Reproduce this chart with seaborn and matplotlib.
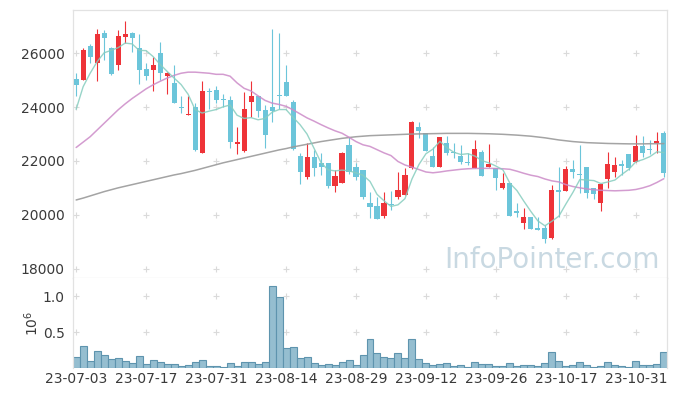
import numpy as np
import matplotlib
matplotlib.use('Agg')
import matplotlib.pyplot as plt
import seaborn as sns

sns.set_style('white')
plt.rcParams['font.family'] = ['DejaVu Sans']
plt.rcParams['font.size'] = 10

RED = '#EE3338'
BLUE = '#6CC5DA'
TEAL = '#86CDBF'
PINK = '#CC8BC8'
GREY = '#9A9A9A'
SPINE = '#E2E2E2'
TXT = '#3A3A3A'

# daily candles (trading-day index 0..84)
open_px = [25045, 25008, 26272, 25627, 26743, 26185, 25565, 26619, 26743, 26185,
           25417, 25380, 26000, 25169, 24908, 24000, 23694, 24016, 22307, 24600,
           24636, 24290, 24264, 22616, 22381, 24177, 24413, 23893, 23992, 24450,
           24946, 24202, 22183, 21415, 22158, 21910, 21910, 21080, 21167, 22592,
           21786, 21650, 20423, 20324, 19952, 20400, 20646, 20733, 21724, 23272,
           23049, 22182, 21761, 22653, 22340, 22183, 21935, 21724, 22319, 21761,
           21724, 21006, 21191, 20120, 19680, 19903, 19506, 19519, 19122, 20900,
           20894, 21687, 21500, 21762, 20981, 20423, 21316, 21601, 21870, 22245,
           21972, 22555, 22420, 22654, 23050]
high_px = [25256, 26210, 26334, 26904, 26866, 26222, 26866, 27201, 26805, 26705,
           25627, 25875, 26433, 25290, 25565, 24413, 24413, 24165, 24983, 24723,
           24785, 24475, 24425, 23248, 24574, 24983, 24413, 24079, 26891, 26767,
           25565, 24264, 22307, 22654, 22406, 22282, 21910, 21662, 22344, 22901,
           21910, 21650, 20856, 20646, 20856, 20880, 21600, 21724, 23483, 23458,
           23049, 22529, 22901, 22926, 22680, 22591, 22282, 22777, 22406, 22629,
           21724, 21563, 21191, 20423, 20237, 19903, 19903, 19618, 21105, 21786,
           21811, 22034, 22592, 21762, 20981, 21142, 22319, 22158, 22034, 22245,
           22963, 22926, 22778, 23087, 23112]
low_px = [24413, 24990, 25627, 24983, 25751, 25200, 25380, 26371, 26061, 24847,
          25008, 24599, 25008, 24475, 24140, 23769, 23694, 22380, 22307, 23917,
          24165, 24016, 22468, 22245, 22350, 23645, 23645, 22468, 23459, 23917,
          24413, 22400, 21142, 21316, 21439, 21477, 20981, 20857, 21167, 21514,
          21291, 20600, 19865, 19840, 19865, 20170, 20600, 20733, 21700, 22839,
          22380, 21761, 21761, 22220, 22100, 21873, 21848, 21724, 21452, 21761,
          20919, 20944, 19965, 19928, 19457, 19457, 19420, 18961, 19085, 19928,
          20894, 21353, 20820, 20609, 20572, 20151, 20981, 21415, 21477, 21662,
          21972, 22158, 22257, 22282, 21415]
close_px = [24822, 26123, 25875, 26718, 26581, 25243, 26643, 26718, 26581, 25380,
            25157, 25565, 25256, 25270, 24165, 23960, 23744, 22406, 24599, 24550,
            24264, 24250, 22715, 22715, 23930, 24413, 23868, 22963, 23868, 24413,
            24413, 22431, 21601, 22158, 21724, 21762, 21080, 21439, 22282, 21601,
            21390, 20650, 20299, 19840, 20423, 20360, 20918, 21476, 23458, 23124,
            22380, 21761, 22901, 22281, 22282, 21972, 21910, 22443, 21452, 21885,
            21377, 21191, 19965, 20080, 19903, 19457, 19444, 19085, 20919, 20860,
            21687, 21600, 21460, 20820, 20770, 21142, 21886, 21848, 21830, 21724,
            22555, 22307, 22390, 22740, 21539]

# moving averages as drawn in the source chart
ma_short = [23920, 24760, 25260, 25690, 26020, 26110, 26210, 26380, 26350, 26110,
            26100, 25880, 25590, 25330, 25080, 24840, 24480, 23910, 23780, 23850,
            23910, 24010, 24080, 23700, 23580, 23610, 23530, 23580, 23810, 23910,
            23910, 23620, 23350, 23000, 22470, 21940, 21670, 21630, 21660, 21630,
            21560, 21470, 21240, 20760, 20520, 20310, 20370, 20600, 21330, 21870,
            22270, 22440, 22730, 22490, 22320, 22240, 22270, 22180, 22010, 21930,
            21810, 21670, 21170, 20900, 20500, 20120, 19770, 19590, 19760, 19950,
            20400, 20830, 21310, 21290, 21270, 21160, 21220, 21290, 21500, 21690,
            21970, 22050, 22160, 22340, 22310]
ma_mid = [22500, 22700, 22900, 23150, 23400, 23650, 23900, 24120, 24320, 24500,
          24680, 24830, 24960, 25080, 25180, 25260, 25300, 25300, 25280, 25260,
          25220, 25220, 25150, 24900, 24700, 24600, 24420, 24250, 24150, 24100,
          24030, 23900, 23750, 23600, 23480, 23350, 23230, 23120, 23030, 22880,
          22720, 22600, 22540, 22420, 22300, 22200, 21980, 21850, 21770, 21680,
          21590, 21560, 21590, 21630, 21660, 21690, 21710, 21720, 21725, 21725,
          21720, 21710, 21690, 21620, 21540, 21470, 21420, 21330, 21260, 21220,
          21120, 21050, 21000, 20960, 20930, 20910, 20900, 20890, 20900, 20910,
          20940, 21000, 21080, 21200, 21340]
ma_long = [20550, 20620, 20700, 20780, 20860, 20930, 21000, 21060, 21120, 21180,
           21240, 21300, 21360, 21420, 21480, 21530, 21590, 21650, 21720, 21790,
           21860, 21930, 21990, 22050, 22110, 22170, 22230, 22290, 22350, 22410,
           22460, 22520, 22570, 22620, 22670, 22720, 22760, 22800, 22840, 22870,
           22900, 22920, 22940, 22950, 22960, 22970, 22980, 22990, 23000, 23005,
           23010, 23015, 23020, 23025, 23025, 23025, 23025, 23020, 23015, 23010,
           23000, 22990, 22975, 22960, 22940, 22920, 22890, 22860, 22820, 22780,
           22750, 22720, 22700, 22680, 22670, 22660, 22650, 22645, 22640, 22635,
           22635, 22635, 22640, 22640, 22645]

# volume in millions
volume = [0.159, 0.308, 0.103, 0.243, 0.182, 0.126, 0.140, 0.103, 0.075, 0.168,
          0.056, 0.112, 0.089, 0.056, 0.056, 0.033, 0.042, 0.084, 0.112, 0.028,
          0.028, 0.014, 0.070, 0.028, 0.084, 0.084, 0.056, 0.084, 1.140, 0.981,
          0.280, 0.294, 0.140, 0.154, 0.070, 0.042, 0.056, 0.037, 0.084, 0.112,
          0.042, 0.182, 0.407, 0.210, 0.159, 0.140, 0.210, 0.140, 0.407, 0.126,
          0.070, 0.042, 0.056, 0.070, 0.028, 0.042, 0.014, 0.084, 0.056, 0.056,
          0.028, 0.028, 0.070, 0.028, 0.042, 0.042, 0.028, 0.070, 0.224, 0.098,
          0.028, 0.042, 0.084, 0.042, 0.014, 0.028, 0.084, 0.042, 0.028, 0.014,
          0.098, 0.042, 0.042, 0.056, 0.224]

date_ticks = [0, 10, 20, 30, 40, 50, 60, 70, 80]
date_labels = ['23-07-03', '23-07-17', '23-07-31', '23-08-14', '23-08-29',
               '23-09-12', '23-09-26', '23-10-17', '23-10-31']
price_ticks = [18000, 20000, 22000, 24000, 26000]
vol_ticks = [0.5, 1.0]

o = np.array(open_px, float)
c = np.array(close_px, float)
idx = np.arange(len(c))
cols = np.where(c >= o, RED, BLUE)

fig = plt.figure(figsize=(6.77, 3.96), dpi=100)
ax1 = fig.add_axes([73 / 677, 1 - 278 / 396, 594 / 677, 268 / 396])
ax2 = fig.add_axes([73 / 677, 1 - 368 / 396, 594 / 677, 90 / 396])

# grid crosses
gx, gy = np.meshgrid(date_ticks, price_ticks)
ax1.scatter(gx.ravel(), gy.ravel(), marker='+', s=22, color='#DADADA', linewidths=0.8, zorder=0)
gx2, gy2 = np.meshgrid(date_ticks, vol_ticks)
ax2.scatter(gx2.ravel(), gy2.ravel(), marker='+', s=22, color='#DADADA', linewidths=0.8, zorder=0)

ax1.text(0.987, 0.037, 'InfoPointer.com', transform=ax1.transAxes, ha='right', va='baseline',
         fontsize=20, color='#C9D9E2', zorder=0.5)

# candles
ax1.vlines(idx, low_px, high_px, colors=cols, linewidth=0.8, zorder=2)
body = np.maximum(np.abs(c - o), 45)
ax1.bar(idx, body, bottom=np.minimum(o, c), width=0.72, color=cols, linewidth=0, zorder=3)

# moving averages
sns.lineplot(x=idx, y=ma_long, color=GREY, linewidth=1.1, alpha=0.9, ax=ax1, zorder=4)
sns.lineplot(x=idx, y=ma_mid, color=PINK, linewidth=1.1, alpha=0.85, ax=ax1, zorder=4)
sns.lineplot(x=idx, y=ma_short, color=TEAL, linewidth=1.0, alpha=0.85, ax=ax1, zorder=4)

ax1.set_xlim(-0.45, 84.45)
ax1.set_ylim(17650, 27610)
ax1.set_xticks(date_ticks)
ax1.set_xticklabels([])
ax1.set_yticks(price_ticks)
ax1.set_yticklabels([str(p) for p in price_ticks])

# volume
sns.barplot(x=idx, y=volume, native_scale=True, color='#95BED0', edgecolor='#5E94AE',
            linewidth=0.8, width=1.0, saturation=1, errorbar=None, ax=ax2, zorder=2)
ax2.set_xlim(-0.45, 84.45)
ax2.set_ylim(0, 1.25)
ax2.set_xticks(date_ticks)
ax2.set_xticklabels(date_labels)
ax2.set_yticks(vol_ticks)
ax2.set_yticklabels(['0.5', '1.0'])
ax2.set_ylabel(r'$10^6$', color=TXT, fontsize=10, labelpad=1)
ax2.set_xlabel('')

for ax in (ax1, ax2):
    ax.tick_params(length=0, colors=TXT, labelsize=10, pad=6)
    for s in ax.spines.values():
        s.set_color(SPINE)
        s.set_linewidth(0.9)
ax2.spines['top'].set_visible(False)
ax2.spines['bottom'].set_visible(False)
ax2.tick_params(axis='x', pad=3)

fig.savefig('out.png', dpi=100)
